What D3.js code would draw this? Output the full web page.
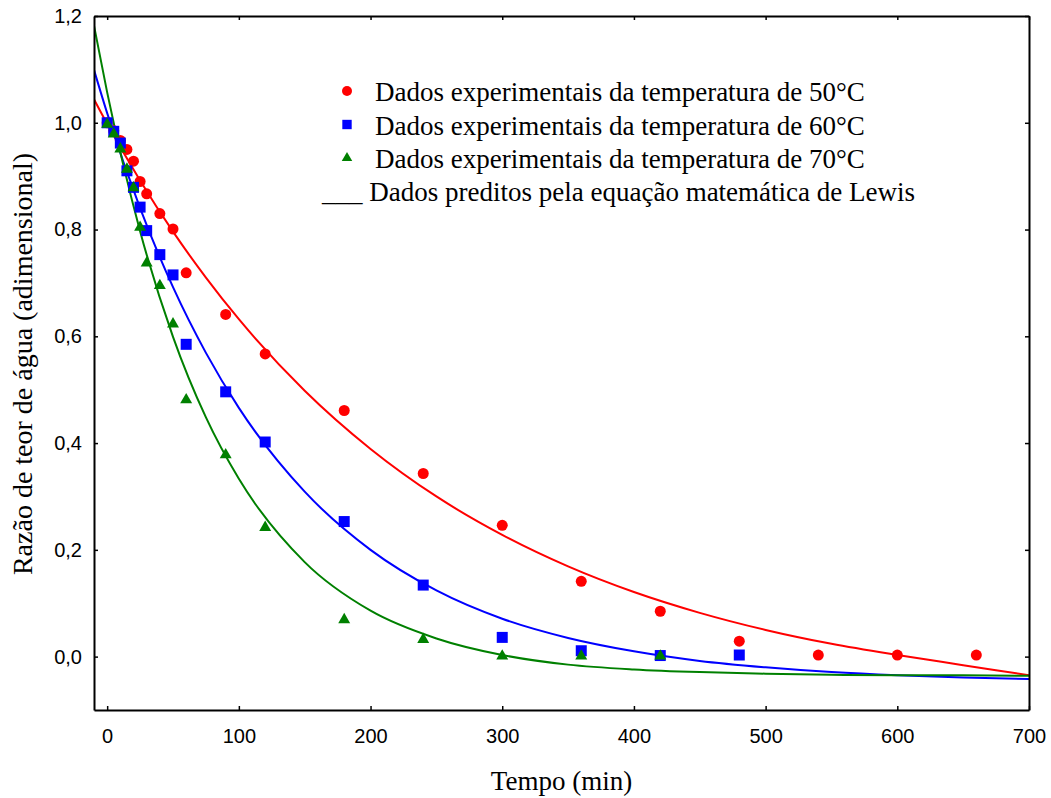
<!DOCTYPE html>
<html>
<head>
<meta charset="utf-8">
<script src="https://cdn.jsdelivr.net/npm/d3@7"></script>
<style>
  body { margin: 0; background: #fff; }
</style>
</head>
<body>
<div id="chart"></div>
<script>
// experimental points (moisture ratio vs time, min)
var times50 = [0, 5, 10, 15, 20, 25, 30, 40, 50, 60, 90, 120, 180, 240, 300, 360, 420, 480, 540, 600, 660];
var mr50 = [1.0, 0.985, 0.967, 0.950, 0.928, 0.890, 0.867, 0.830, 0.801, 0.719, 0.641, 0.567, 0.461, 0.343, 0.246, 0.141, 0.085, 0.029, 0.003, 0.003, 0.003];

var times60 = [0, 5, 10, 15, 20, 25, 30, 40, 50, 60, 90, 120, 180, 240, 300, 360, 420, 480];
var mr60 = [1.0, 0.984, 0.962, 0.910, 0.879, 0.842, 0.798, 0.753, 0.715, 0.585, 0.496, 0.402, 0.253, 0.134, 0.036, 0.011, 0.002, 0.003];

var times70 = [0, 5, 10, 15, 20, 25, 30, 40, 50, 60, 90, 120, 180, 240, 300, 360, 420];
var mr70 = [0.997, 0.979, 0.951, 0.913, 0.878, 0.804, 0.737, 0.695, 0.623, 0.481, 0.378, 0.242, 0.069, 0.032, 0.001, 0.001, 0.001];

// predicted curves
var curveTimes = [-10, 0, 25, 50, 75, 100, 150, 200, 250, 300, 350, 400, 450, 500, 550, 600, 650, 700];
var fit50 = [1.044, 0.998, 0.892, 0.796, 0.710, 0.632, 0.498, 0.389, 0.300, 0.228, 0.169, 0.121, 0.082, 0.050, 0.024, 0.003, -0.016, -0.035];
var fit60 = [1.099, 1.018, 0.840, 0.692, 0.569, 0.466, 0.309, 0.200, 0.124, 0.071, 0.035, 0.010, -0.008, -0.020, -0.029, -0.035, -0.039, -0.042];
var fit70 = [1.182, 1.057, 0.797, 0.599, 0.448, 0.333, 0.177, 0.086, 0.034, 0.003, -0.015, -0.024, -0.029, -0.032, -0.034, -0.035, -0.035, -0.036];

var xTicks = [0, 100, 200, 300, 400, 500, 600, 700];
var yTicks = [0.0, 0.2, 0.4, 0.6, 0.8, 1.0, 1.2];

var legendLabels = [
  "Dados experimentais da temperatura de 50°C",
  "Dados experimentais da temperatura de 60°C",
  "Dados experimentais da temperatura de 70°C"
];
var fitLabel = "___ Dados preditos pela equação matemática de Lewis";
var xTitle = "Tempo (min)";
var yTitle = "Razão de teor de água (adimensional)";

var width = 1051,
    height = 798;
var plot = { left: 94, right: 1029, top: 16, bottom: 710 };

var series = [
  { times: times50, values: mr50, fit: fit50, color: "#ff0000", shape: d3.symbolCircle, size: 95, legendSize: 78 },
  { times: times60, values: mr60, fit: fit60, color: "#0000ff", shape: d3.symbolSquare, size: 121, legendSize: 88 },
  { times: times70, values: mr70, fit: fit70, color: "#008000", shape: d3.symbolTriangle, size: 62, legendSize: 48 }
];

var x = d3.scaleLinear().domain([-10, 700]).range([plot.left, plot.right]);
var y = d3.scaleLinear().domain([-0.1, 1.2]).range([plot.bottom, plot.top]);
var commaFormat = function(d) { return d3.format(".1f")(d).replace(".", ","); };

var svg = d3.select("#chart")
  .append("svg")
    .attr("width", width)
    .attr("height", height);

svg.append("clipPath")
    .attr("id", "plot-clip")
  .append("rect")
    .attr("x", plot.left)
    .attr("y", plot.top)
    .attr("width", plot.right - plot.left)
    .attr("height", plot.bottom - plot.top);

drawCurves();
drawPoints();
drawAxes();
drawLegend();
drawTitles();

function drawCurves() {
  var line = d3.line()
    .x(function(d) { return x(d[0]); })
    .y(function(d) { return y(d[1]); })
    .curve(d3.curveMonotoneX);

  svg.append("g")
      .attr("clip-path", "url(#plot-clip)")
    .selectAll("path")
    .data(series)
    .enter()
      .append("path")
      .attr("fill", "none")
      .attr("stroke", function(s) { return s.color; })
      .attr("stroke-width", 2)
      .attr("d", function(s) {
        return line(curveTimes.map(function(t, i) { return [t, s.fit[i]]; }));
      });
}

function drawPoints() {
  series.forEach(function(s) {
    var symbol = d3.symbol().type(s.shape).size(s.size);
    svg.append("g")
      .selectAll("path")
      .data(s.times.map(function(t, i) { return [t, s.values[i]]; }))
      .enter()
        .append("path")
        .attr("d", symbol)
        .attr("fill", s.color)
        .attr("transform", function(d) { return "translate(" + x(d[0]) + "," + y(d[1]) + ")"; });
  });
}

function drawAxes() {
  var tickLen = -4;

  var bottom = svg.append("g")
    .attr("transform", "translate(0," + plot.bottom + ")")
    .call(d3.axisBottom(x).tickValues(xTicks).tickSizeInner(tickLen).tickSizeOuter(0).tickPadding(19));
  var left = svg.append("g")
    .attr("transform", "translate(" + plot.left + ",0)")
    .call(d3.axisLeft(y).tickValues(yTicks).tickFormat(commaFormat).tickSizeInner(tickLen).tickSizeOuter(0).tickPadding(12));
  var top = svg.append("g")
    .attr("transform", "translate(0," + plot.top + ")")
    .call(d3.axisTop(x).tickValues(xTicks).tickFormat("").tickSizeInner(tickLen).tickSizeOuter(0));
  var right = svg.append("g")
    .attr("transform", "translate(" + plot.right + ",0)")
    .call(d3.axisRight(y).tickValues(yTicks).tickFormat("").tickSizeInner(tickLen).tickSizeOuter(0));

  [bottom, left, top, right].forEach(function(axis) {
    axis.select(".domain").attr("stroke", "#000").attr("stroke-width", 2);
    axis.selectAll(".tick line").attr("stroke", "#000").attr("stroke-width", 1.5);
    axis.selectAll(".tick text")
      .attr("fill", "#000")
      .attr("font-family", "'Liberation Sans', Arial, sans-serif")
      .attr("font-size", "20px");
  });
}

function drawLegend() {
  var markerX = 347,
      textX = 375,
      baselines = [101, 134.5, 168, 201],
      fontSize = "27px",
      font = "'Liberation Serif', 'Times New Roman', serif";

  series.forEach(function(s, i) {
    svg.append("path")
      .attr("d", d3.symbol().type(s.shape).size(s.legendSize))
      .attr("fill", s.color)
      .attr("transform", "translate(" + markerX + "," + (baselines[i] - 10) + ")");
    svg.append("text")
      .attr("x", textX)
      .attr("y", baselines[i])
      .attr("font-family", font)
      .attr("font-size", fontSize)
      .attr("fill", "#000")
      .text(legendLabels[i]);
  });

  svg.append("text")
    .attr("x", 322)
    .attr("y", baselines[3])
    .attr("font-family", font)
    .attr("font-size", fontSize)
    .attr("fill", "#000")
    .attr("xml:space", "preserve")
    .text(fitLabel);
}

function drawTitles() {
  var font = "'Liberation Serif', 'Times New Roman', serif";
  svg.append("text")
    .attr("x", (plot.left + plot.right) / 2)
    .attr("y", 790)
    .attr("text-anchor", "middle")
    .attr("font-family", font)
    .attr("font-size", "27px")
    .attr("fill", "#000")
    .text(xTitle);

  svg.append("text")
    .attr("transform", "translate(32," + 364 + ") rotate(-90)")
    .attr("text-anchor", "middle")
    .attr("font-family", font)
    .attr("font-size", "28px")
    .attr("fill", "#000")
    .text(yTitle);
}
</script>
</body>
</html>
